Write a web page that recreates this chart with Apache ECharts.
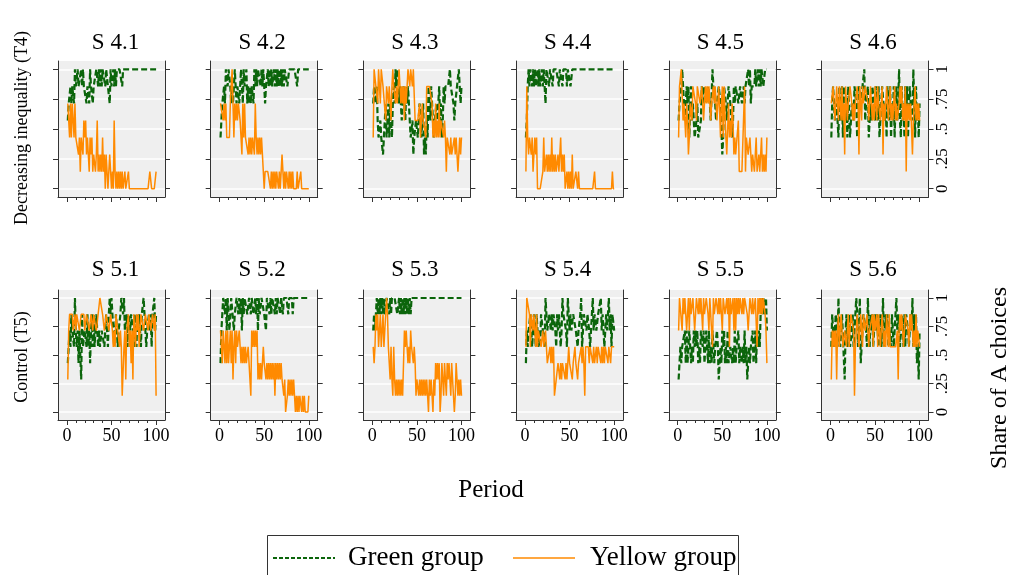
<!DOCTYPE html>
<html>
<head>
<meta charset="utf-8">
<script src="https://cdn.jsdelivr.net/npm/echarts@6/dist/echarts.min.js"></script>
<style>
  html, body { margin: 0; background: #fff; }
  #chart { width: 1012px; height: 575px; }
</style>
</head>
<body>
<div id="chart"></div>
<script>
// 12 sessions, 100 periods each. each digit = how many of the 7 group members chose A
const panelTitles = ['S 4.1', 'S 4.2', 'S 4.3', 'S 4.4', 'S 4.5', 'S 4.6',
                     'S 5.1', 'S 5.2', 'S 5.3', 'S 5.4', 'S 5.5', 'S 5.6'];
const rowLabels = ['Decreasing inequality (T4)', 'Control (T5)'];
const legendNames = ['Green group', 'Yellow group'];
const groupSize = 7;
const yTicks = [0, 0.25, 0.5, 0.75, 1];
const yTickLabels = ['0', '.25', '.5', '.75', '1'];
const xMajorTicks = [0, 50, 100];
const xMinorTicks = [10, 20, 30, 40, 60, 70, 80, 90];

const greenRuns = [
  '4556566576 6766676766 6566576656 6677676767 7767766576 6767677777 7677777777 7777777777 7777777777 7777777777',
  '3455657767 7656567656 6567657667 5656566576 7677767677 5667676766 7676767676 7677766777 7777776777 7777777777',
  '5665643343 3224534535 4356576765 6545654656 5433423344 3454345232 4365465434 4545645346 5666667666 5455667656',
  '3467677676 7667676676 7657776777 6777777677 7677776777 6677777777 7777777777 7777777777 7777777777 7777777777',
  '4556775446 5635645533 4533346566 6556654476 6545566552 3665456654 3465666556 6556566676 7566667667 6767766777',
  '3566445536 5463664536 6335546653 4665566745 5633546654 6546335666 4536646354 6356457436 4536463565 5475364535',
  '3454655475 4535526445 5464535646 4566454455 5456546767 6545664556 7767556466 5665466465 6546676545 5656466756',
  '3567767576 5677756677 6767576777 6677677667 6757667776 6577767677 7676777677 6777776777 7677777777 7777777777',
  '5656767676 7676677767 6777777667 6767676767 6767777777 7777777777 7777777777 7777777777 7777777777 7777777777',
  '3545565456 5466454665 5476556656 5665465654 5766654765 6556665545 5674566656 6545675665 5666756545 6567564665',
  '2343444535 3454343545 4534355453 4543534354 3445423435 4534353344 3435344534 4343534234 3445345354 5467676675',
  '4654566475 4566625645 6445645676 4573356665 4754656446 5664564574 5656455465 4567566456 5464665456 5746563425'
];

const yellowRuns = [
  '5535355353 3323133243 4232132312 2124121213 1202101210 1041010101 0100100010 0000000000 0000000000 0011000001',
  '5554545333 3557535454 5543253533 3232323325 3232323210 1111110101 0101101012 1010110101 0100001000 1000000000',
  '3776657657 7666466566 4676656567 6565646557 7677677444 4453454443 6666665343 5343534443 4313332322 2323211323',
  '1632332312 3230000001 3112121213 1212112113 1212001010 1020001101 0000000000 0000000100 0000000000 0000000100',
  '3667745435 4235546665 4666556645 6565664556 5664466356 3663225343 5423222411 1111613322 3212212311 2113121213',
  '5566456646 5464526645 5665454556 5265465566 6545664546 5465544625 4566456454 5645445656 4546154545 5245645454',
  '2566665565 6665566665 5666556656 6655667776 6556665566 5454665545 4114525564 5352664656 4566655666 5665566561',
  '5535435353 4535245354 4543434343 3432154545 4523232343 3232323232 3132323232 2120012121 2121010101 1010100001',
  '4346564464 4644476432 4214212121 2121154543 4354434312 2121212121 2102121021 3232301321 3213232132 2013212121',
  '4777646656 6464555445 4454333434 3411223323 2333232343 3323343323 3343431444 4344434334 3444343434 4434434444',
  '5777576775 6757667756 7767677576 6776577747 6677676765 7766767476 6757576767 7676777656 7767667747 6767677653',
  '2545452564 5654455456 4566651456 5456546655 6545556465 5646545654 5465464444 4444525656 5456665465 6545464554'
];

const FONT = '"Liberation Serif", "Times New Roman", serif';
const AXIS = '#333';
const GREEN = '#0b650b';
const ORANGE = '#ff8a00';

function toShares(run) {
  const digits = run.replace(/\s/g, '').split('');
  return digits.map((d, k) => [k + 1, Number(d) / groupSize]);
}

const chart = echarts.init(document.getElementById('chart'));

const rows = [{ top: 61, height: 136 }, { top: 290, height: 130 }];
const grids = [], xAxes = [], yAxes = [], series = [], texts = [];

for (let i = 0; i < 12; i++) {
  const r = Math.floor(i / 6), c = i % 6;
  const left = 58 + c * 152.7;
  grids.push({
    left: left, top: rows[r].top, width: 107, height: rows[r].height,
    show: true, backgroundColor: '#efefef', borderWidth: 0
  });

  // major + minor ticks on the period axis
  xAxes.push({
    gridIndex: i, type: 'value', min: -10, max: 110, position: 'bottom',
    axisLine: { show: true, onZero: false, lineStyle: { color: AXIS, width: 1 } },
    axisTick: { show: true, customValues: xMajorTicks, length: 5, lineStyle: { color: AXIS } },
    axisLabel: { show: r === 1, customValues: xMajorTicks, fontFamily: FONT, fontSize: 18, color: '#000', margin: 7 },
    splitLine: { show: false }
  });
  xAxes.push({
    gridIndex: i, type: 'value', min: -10, max: 110, position: 'bottom',
    axisLine: { show: false, onZero: false },
    axisTick: { show: true, customValues: xMinorTicks, length: 3, lineStyle: { color: AXIS } },
    axisLabel: { show: false },
    splitLine: { show: false }
  });

  yAxes.push({
    gridIndex: i, type: 'value', min: -0.07, max: 1.07, position: 'left',
    axisLine: { show: true, onZero: false, lineStyle: { color: AXIS, width: 1 } },
    axisTick: { show: true, customValues: yTicks, length: 5, lineStyle: { color: AXIS } },
    axisLabel: { show: false },
    splitLine: { show: true, lineStyle: { color: '#ffffff', width: 1.5 } }
  });
  yAxes.push({
    gridIndex: i, type: 'value', min: -0.07, max: 1.07, position: 'right',
    axisLine: { show: true, onZero: false, lineStyle: { color: AXIS, width: 1 } },
    axisTick: { show: true, customValues: yTicks, length: 5, lineStyle: { color: AXIS } },
    axisLabel: {
      show: c === 5, customValues: yTicks, rotate: 90, margin: 6,
      fontFamily: FONT, fontSize: 17, color: '#000',
      formatter: v => yTickLabels[yTicks.indexOf(v)]
    },
    splitLine: { show: false }
  });

  series.push({
    name: legendNames[0], type: 'line', xAxisIndex: 2 * i, yAxisIndex: 2 * i,
    data: toShares(greenRuns[i]), symbol: 'none', z: 3, silent: true,
    itemStyle: { color: GREEN },
    lineStyle: { color: GREEN, width: 2.2, type: [6, 3] }
  });
  series.push({
    name: legendNames[1], type: 'line', xAxisIndex: 2 * i, yAxisIndex: 2 * i,
    data: toShares(yellowRuns[i]), symbol: 'none', z: 4, silent: true,
    itemStyle: { color: ORANGE },
    lineStyle: { color: ORANGE, width: 1.5 }
  });

  texts.push({
    type: 'text', x: left + 51.5 + (c === 0 ? 6 : 0), y: r === 0 ? 43 : 270, silent: true,
    style: { text: panelTitles[i], fill: '#000', font: '23px ' + FONT, align: 'center', verticalAlign: 'middle' }
  });
}

texts.push(
  { type: 'text', x: 22, y: 128, rotation: Math.PI / 2, silent: true,
    style: { text: rowLabels[0], fill: '#000', font: '18px ' + FONT, align: 'center', verticalAlign: 'middle' } },
  { type: 'text', x: 22, y: 357, rotation: Math.PI / 2, silent: true,
    style: { text: rowLabels[1], fill: '#000', font: '18px ' + FONT, align: 'center', verticalAlign: 'middle' } },
  { type: 'text', x: 491, y: 490, silent: true,
    style: { text: 'Period', fill: '#000', font: '25px ' + FONT, align: 'center', verticalAlign: 'middle' } },
  { type: 'text', x: 1000, y: 378, rotation: Math.PI / 2, silent: true,
    style: { text: 'Share of A choices', fill: '#000', font: '24px ' + FONT, align: 'center', verticalAlign: 'middle' } }
);

// legend box drawn by hand so the keys are plain line samples
texts.push(
  { type: 'rect', shape: { x: 267.5, y: 535.5, width: 471, height: 50 }, silent: true,
    style: { fill: '#fff', stroke: '#333', lineWidth: 1 } },
  { type: 'line', shape: { x1: 273, y1: 558, x2: 335, y2: 558 }, silent: true,
    style: { stroke: GREEN, lineWidth: 2, lineDash: [4, 2] } },
  { type: 'text', x: 348, y: 558, silent: true,
    style: { text: legendNames[0], fill: '#000', font: '27px ' + FONT, align: 'left', verticalAlign: 'middle' } },
  { type: 'line', shape: { x1: 513, y1: 558, x2: 575, y2: 558 }, silent: true,
    style: { stroke: ORANGE, lineWidth: 1.5 } },
  { type: 'text', x: 590, y: 558, silent: true,
    style: { text: legendNames[1], fill: '#000', font: '27px ' + FONT, align: 'left', verticalAlign: 'middle' } }
);

const option = {
  backgroundColor: '#ffffff',
  animation: false,
  grid: grids,
  xAxis: xAxes,
  yAxis: yAxes,
  series: series,
  graphic: texts
};

chart.setOption(option);
</script>
</body>
</html>
